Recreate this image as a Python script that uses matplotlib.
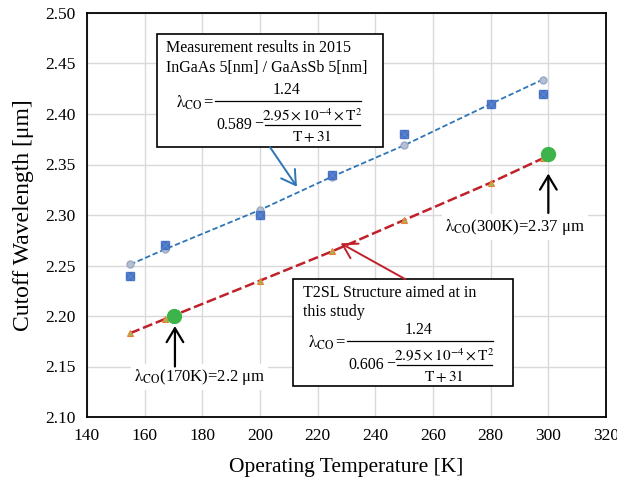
import matplotlib
matplotlib.use("Agg")
import matplotlib.pyplot as plt
from matplotlib.patches import Rectangle
from matplotlib.lines import Line2D

plt.rcParams["font.family"] = ["Liberation Serif", "DejaVu Serif"]
plt.rcParams["mathtext.fontset"] = "stix"

# measured cutoff wavelengths (2015 sample)
temp_meas = [155, 167, 200, 225, 250, 280, 298]
wl_meas = [2.240, 2.270, 2.300, 2.340, 2.380, 2.410, 2.420]
# fitted curve for the 2015 sample (0.589 model)
wl_fit_2015 = [2.251, 2.266, 2.305, 2.338, 2.369, 2.410, 2.434]
# target T2SL structure (0.606 model)
wl_fit_t2sl = [2.183, 2.197, 2.235, 2.264, 2.295, 2.332, 2.356]
# highlighted design points
temp_pts = [170, 300]
wl_pts = [2.20, 2.36]

W, H = 617, 484
fig = plt.figure(figsize=(W / 100, H / 100), dpi=100)
ax = fig.add_axes([87 / W, 67 / H, 519 / W, 404 / H])

ax.plot(temp_meas, wl_fit_2015, color="#2E75B6", lw=1.3, ls=(0, (3, 1.5)), zorder=3)
ax.plot(temp_meas, wl_fit_2015, ls="none", marker="o", ms=5, mfc="#B4BFD3",
        mec="#9AA9C6", zorder=4)
ax.plot(temp_meas, wl_meas, ls="none", marker="s", ms=6, color="#4472C4", zorder=4)
ax.plot(temp_meas, wl_meas, ls="none", marker="x", ms=6, mew=1.0, color="#5B82CC", zorder=4)

ax.plot(temp_meas, wl_fit_t2sl, color="#C0202A", lw=1.8, ls=(0, (4, 1.5)), zorder=3)
ax.plot(temp_meas, wl_fit_t2sl, ls="none", marker="^", ms=5, mfc="#9BBB59",
        mec="#ED7D31", mew=0.8, zorder=4)
ax.plot(temp_pts, wl_pts, ls="none", marker="o", ms=10, color="#3CB44B", zorder=6)

ax.set_xlim(140, 320)
ax.set_ylim(2.10, 2.50)
ax.set_xticks(range(140, 321, 20))
ax.set_yticks([2.10 + 0.05 * i for i in range(9)])
ax.set_yticklabels([f"{2.10 + 0.05 * i:.2f}" for i in range(9)])
ax.tick_params(length=0, labelsize=12.5, pad=8)
ax.grid(color="#D9D9D9", lw=1)
ax.set_axisbelow(True)
for s in ax.spines.values():
    s.set_linewidth(1.3)
ax.set_xlabel("Operating Temperature [K]", fontsize=15.5, labelpad=10)
ax.set_ylabel("Cutoff Wavelength [μm]", fontsize=17, labelpad=8)

# text boxes
ax.add_patch(Rectangle((164.3, 2.3673), 78.4, 0.1119, fc="white", ec="black", lw=1.2, zorder=7))
ax.add_patch(Rectangle((211.4, 2.1307), 76.3, 0.1059, fc="white", ec="black", lw=1.2, zorder=7))


def ftext(px, py, s, **kw):
    fig.text(px / W, 1 - py / H, s, zorder=8, va="center", **kw)


def hline(x0, x1, py):
    fig.add_artist(Line2D([x0 / W, x1 / W], [1 - py / H] * 2, color="black", lw=0.9, zorder=8))


def formula(x0, y0, const):
    # x0: left of lambda, y0: outer fraction bar (pixels)
    ftext(x0, y0 + 2, r"$\mathrm{\lambda}_{\mathrm{CO}}$", fontsize=12)
    ftext(x0 + 27, y0 + 1, "=", fontsize=12)
    hline(x0 + 39, x0 + 185, y0)
    ftext(x0 + 111, y0 - 11, "1.24", fontsize=11.5, ha="center")
    ftext(x0 + 40, y0 + 24, const, fontsize=11.5)
    ftext(x0 + 78, y0 + 23, "\u2212", fontsize=11.5)
    hline(x0 + 89, x0 + 184, y0 + 24)
    ftext(x0 + 136, y0 + 15, r"$2.95\times10^{-4}\times\mathrm{T}^{2}$", fontsize=11, ha="center")
    ftext(x0 + 136, y0 + 35, r"$\mathrm{T}+31$", fontsize=11, ha="center")


ftext(166, 48, "Measurement results in 2015", fontsize=11.5)
ftext(166, 68, "InGaAs 5[nm] / GaAsSb 5[nm]", fontsize=11.5)
formula(176, 101, "0.589")

ftext(303, 293, "T2SL Structure aimed at in", fontsize=11.5)
ftext(303, 312, "this study", fontsize=11.5)
formula(308, 341, "0.606")

# point labels
lab = dict(fontsize=12, ha="center", va="center",
           bbox=dict(fc="white", ec="none", pad=2), zorder=8)
ax.text(179, 2.1396, r"$\mathrm{\lambda}_{\mathrm{CO}}$(170K)=2.2 μm", **lab)
ax.text(288.5, 2.288, r"$\mathrm{\lambda}_{\mathrm{CO}}$(300K)=2.37 μm", **lab)

arr = dict(arrowstyle="->,head_length=0.5,head_width=0.3", color="black", lw=1.6,
           mutation_scale=20, shrinkA=0, shrinkB=0)
ax.annotate("", xy=(170.5, 2.190), xytext=(170.5, 2.150), arrowprops=arr, zorder=9)
ax.annotate("", xy=(300, 2.341), xytext=(300, 2.302), arrowprops=arr, zorder=9)
ax.annotate("", xy=(212.8, 2.328), xytext=(203.5, 2.367),
            arrowprops=dict(arr, color="#2E75B6", lw=1.4), zorder=9)
ax.annotate("", xy=(228, 2.272), xytext=(250.3, 2.2366),
            arrowprops=dict(arr, color="#C0202A", lw=1.4), zorder=9)

fig.savefig("out.png", dpi=100)
